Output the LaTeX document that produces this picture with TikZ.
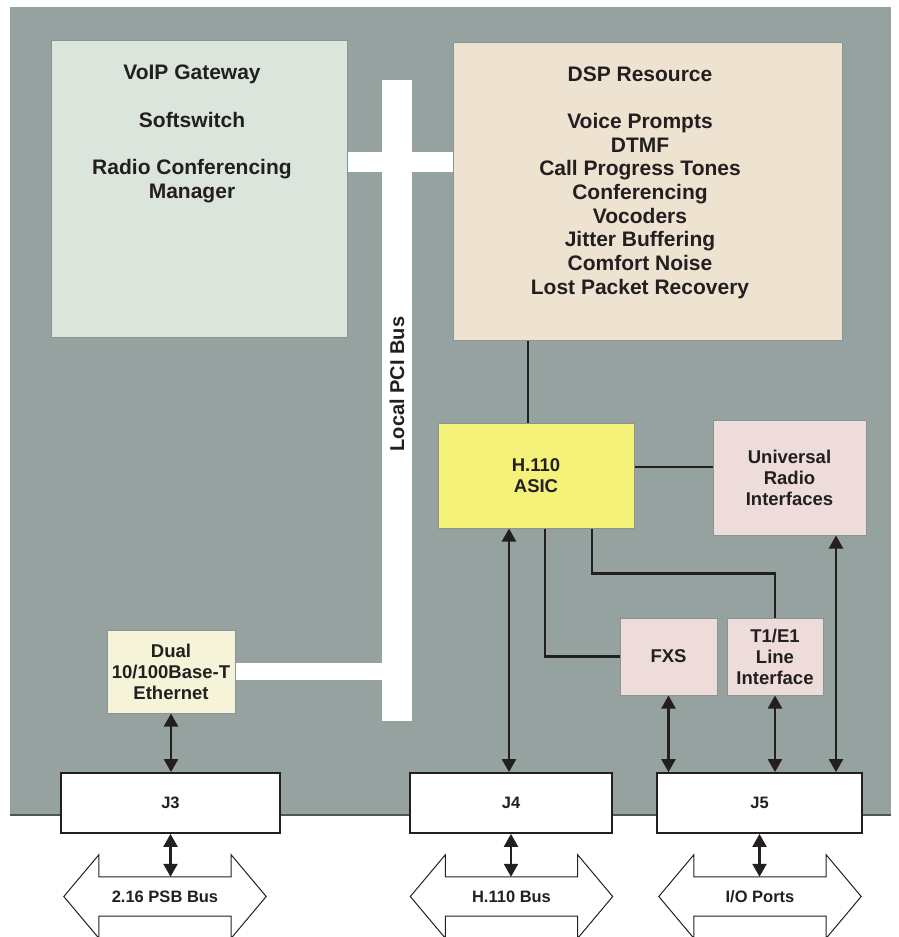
\documentclass[tikz,border=0pt]{standalone}
\usepackage{fontspec}
\setmainfont{Liberation Sans}
\usetikzlibrary{positioning,calc,arrows.meta,backgrounds}

\definecolor{boardgray}{HTML}{96A29F}
\definecolor{edgegray}{HTML}{505552}
\definecolor{boxline}{HTML}{8A9490}
\definecolor{linecol}{HTML}{231F20}
\definecolor{voipgreen}{HTML}{DCE5DC}
\definecolor{dspbeige}{HTML}{EEE3D0}
\definecolor{asicyellow}{HTML}{F5F27A}
\definecolor{ifpink}{HTML}{EEDCDA}
\definecolor{ethyellow}{HTML}{F6F4D8}

\newcommand{\bigfont}{\fontsize{21}{23.7}\selectfont\bfseries}
\newcommand{\midfont}{\fontsize{18.5}{21}\selectfont\bfseries}
\newcommand{\smallfont}{\fontsize{16.5}{20}\selectfont\bfseries}
\newcommand{\pcifont}{\fontsize{20}{24}\selectfont\bfseries}

% outline of a two-headed bus arrow round a label node
\newcommand{\busarrow}[1]{%
  \draw[line width=1pt,draw=linecol] ([xshift=-35pt]#1.west) -- ([yshift=22pt]#1.north west)
    -- (#1.north west) -- (#1.north east) -- ([yshift=22pt]#1.north east)
    -- ([xshift=35pt]#1.east) -- ([yshift=-22pt]#1.south east)
    -- (#1.south east) -- (#1.south west) -- ([yshift=-22pt]#1.south west) -- cycle;}

\tikzset{
  box/.style={rectangle, draw=boxline, line width=1pt, inner sep=0pt, align=center,
    font=\midfont, text=linecol},
  jbox/.style={rectangle, draw=linecol, fill=white, line width=1.8pt, inner sep=0pt,
    minimum height=60pt, font=\smallfont, text=linecol},
  bigtext/.style={align=center, font=\bigfont, text=linecol},
  buslabel/.style={minimum width=132pt, minimum height=39pt, inner sep=0pt,
    font=\smallfont, text=linecol},
  link/.style={line width=2.4pt, draw=linecol},
  biarrow/.style={link, {Triangle[width=14pt,length=13pt]}-{Triangle[width=14pt,length=13pt]}},
}

\begin{document}
\begin{tikzpicture}[x=1pt,y=-1pt]
	\useasboundingbox (0,0) rectangle (898,937);

	\node[box, fill=voipgreen, minimum width=296pt, minimum height=297pt] (voip) at (199,188.5) {};
	\node[box, fill=dspbeige, minimum width=389pt, minimum height=298pt] (dsp) at (647.5,191) {};
	\node[bigtext] (voiptext) at (192,134) {VoIP Gateway\\[23.7pt]Softswitch\\[23.7pt]Radio Conferencing\\Manager};
	\node[bigtext] (dsptext) at (640,182.5) {DSP Resource\\[23.7pt]Voice Prompts\\DTMF\\Call Progress Tones\\Conferencing\\Vocoders\\Jitter Buffering\\Comfort Noise\\Lost Packet Recovery};

	\node[box, fill=asicyellow, minimum width=196pt, minimum height=105pt] (asic) at (536,475.5) {H.110\\ASIC};
	\node[box, fill=ifpink, minimum width=153pt, minimum height=115pt] (uri) at (789.5,477.5) {Universal\\Radio\\Interfaces};
	\node[box, fill=ifpink, minimum width=97pt, minimum height=77pt] (fxs) at (668.5,656.5) {FXS};
	\node[box, fill=ifpink, minimum width=96pt, minimum height=77pt] (t1e1) at (775,656.5) {T1/E1\\Line\\Interface};
	\node[box, fill=ethyellow, minimum width=128pt, minimum height=83pt] (eth) at (171,671.5) {Dual\\10/100Base-T\\Ethernet};

	\node[jbox, minimum width=219pt] (j3) at (170.5,803) {J3};
	\node[jbox, minimum width=202pt] (j4) at (511,803) {J4};
	\node[jbox, minimum width=205pt] (j5) at (759.5,803) {J5};

	\node[buslabel] (psb) at (165,896.5) {2.16 PSB Bus};
	\node[buslabel] (h110bus) at (511.5,896.5) {H.110 Bus};
	\node[buslabel] (ioports) at (760,896.5) {I/O Ports};
	\busarrow{psb}
	\busarrow{h110bus}
	\busarrow{ioports}

	% board and local PCI bus behind the boxes
	\begin{scope}[on background layer]
		\fill[boardgray] (10,7) rectangle (891,815);
		\draw[line width=1.2pt, draw=edgegray] (10,815) -- (891,815);
		\node[fill=white, minimum width=30pt, minimum height=641pt, inner sep=0pt] (pci) at (397,400.5) {};
		\fill[white] ($(voip.east)+(0,-36.5)$) rectangle ($(dsp.west)+(0,-19)$);
		\fill[white] ($(eth.east)+(0,-8.5)$) rectangle ($(pci.west)+(0,279.5)$);
	\end{scope}
	\node[rotate=90, font=\pcifont, text=linecol] (pcilabel) at (397,384) {Local PCI Bus};

	\draw[link] ($(asic.north)+(-8,0)$) -- ($(asic.north |- dsp.south)+(-8,0)$);
	\draw[link] ($(asic.east)+(0,-8.5)$) -- ($(asic.east -| uri.west)+(0,-8.5)$);
	\draw[link] ($(asic.south)+(9,0)$) |- (fxs.west);
	\draw[link] ($(asic.south)+(56,0)$) |- ($(t1e1.north)+(0,-44)$) -- (t1e1.north);

	\draw[biarrow] (eth.south) -- (eth.south |- j3.north);
	\draw[biarrow] ($(asic.south)+(-27,0)$) -- ($(asic.south |- j4.north)+(-27,0)$);
	\draw[biarrow] (fxs.south) -- (fxs.south |- j5.north);
	\draw[biarrow] (t1e1.south) -- (t1e1.south |- j5.north);
	\draw[biarrow] ($(uri.south)+(46.5,0)$) -- ($(uri.south |- j5.north)+(46.5,0)$);

	\draw[biarrow] (j3.south) -- (j3.south |- psb.north);
	\draw[biarrow] (j4.south) -- (j4.south |- h110bus.north);
	\draw[biarrow] (j5.south) -- (j5.south |- ioports.north);
\end{tikzpicture}
\end{document}
